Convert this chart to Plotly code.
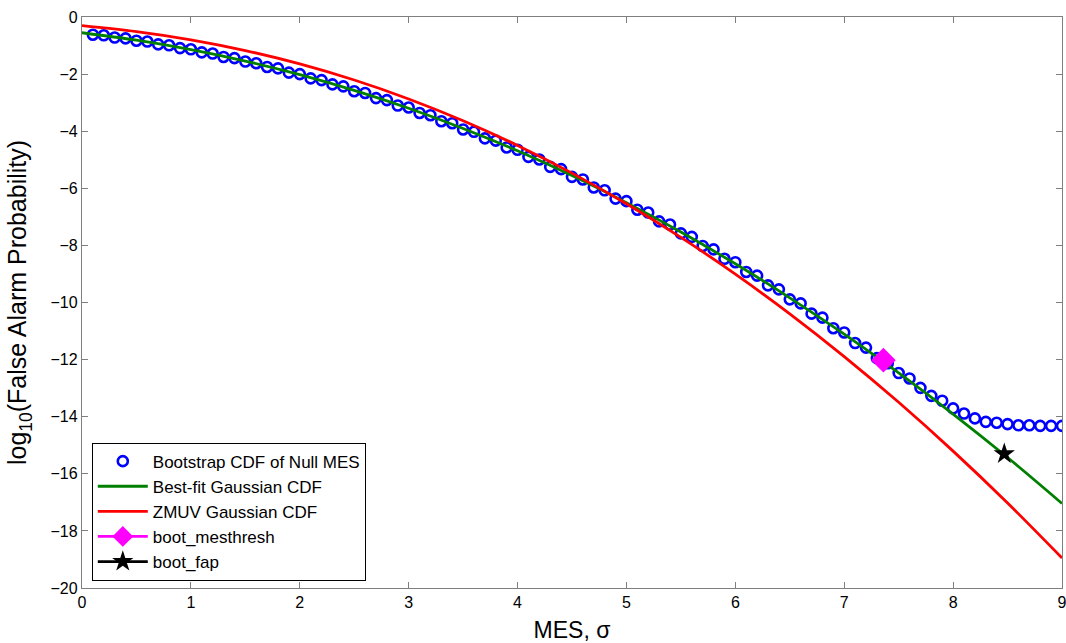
import plotly.graph_objects as go

# Bootstrap CDF of the null MES distribution (log10 false alarm probability)
boot_mes = [round(0.1 * i, 1) for i in range(1, 91)]
boot_logfap = [
    -0.62, -0.64, -0.72, -0.75, -0.83, -0.86, -0.96, -0.99, -1.09, -1.13,
    -1.24, -1.28, -1.40, -1.44, -1.56, -1.62, -1.75, -1.80, -1.95, -2.00,
    -2.15, -2.21, -2.36, -2.43, -2.60, -2.66, -2.84, -2.91, -3.10, -3.17,
    -3.36, -3.44, -3.65, -3.72, -3.94, -4.02, -4.25, -4.33, -4.57, -4.65,
    -4.90, -4.99, -5.25, -5.33, -5.60, -5.69, -5.97, -6.07, -6.36, -6.45,
    -6.75, -6.85, -7.16, -7.27, -7.58, -7.70, -8.02, -8.14, -8.47, -8.59,
    -8.93, -9.06, -9.40, -9.54, -9.89, -10.03, -10.39, -10.53, -10.90, -11.05,
    -11.42, -11.58, -11.95, -12.13, -12.47, -12.66, -12.99, -13.27, -13.44, -13.71,
    -13.89, -14.06, -14.18, -14.21, -14.26, -14.30, -14.30, -14.32, -14.32, -14.32,
]

# Gaussian CDF curves sampled along MES
curve_mes = [0.0, 0.5, 1.0, 1.5, 2.0, 2.5, 3.0, 3.5, 4.0, 4.5,
             5.0, 5.5, 6.0, 6.5, 7.0, 7.5, 8.0, 8.5, 9.0]
bestfit_logfap = [-0.552, -0.814, -1.143, -1.543, -2.018, -2.569, -3.196, -3.903, -4.688, -5.554,
                  -6.502, -7.533, -8.644, -9.836, -11.108, -12.467, -13.906, -15.43, -17.04]
zmuv_logfap = [-0.301, -0.511, -0.799, -1.175, -1.643, -2.207, -2.870, -3.633, -4.499, -5.469,
               -6.543, -7.721, -9.006, -10.396, -11.893, -13.496, -15.206, -17.023, -18.947]

# Threshold markers
mesthresh_x = [7.36]
mesthresh_y = [-12.02]
fap_x = [8.47]
fap_y = [-15.30]

x_ticks = [0, 1, 2, 3, 4, 5, 6, 7, 8, 9]
y_ticks = [0, -2, -4, -6, -8, -10, -12, -14, -16, -18, -20]

FONT = "Liberation Sans, Arial, Helvetica, sans-serif"

fig = go.Figure()
fig.add_trace(go.Scatter(
    x=boot_mes, y=boot_logfap, mode="markers", name="Bootstrap CDF of Null MES",
    marker=dict(symbol="circle-open", size=10, color="#0000ff", line=dict(width=2.6, color="#0000ff")),
))
fig.add_trace(go.Scatter(
    x=curve_mes, y=bestfit_logfap, mode="lines", name="Best-fit Gaussian CDF",
    line=dict(color="#008000", width=2.8, shape="spline"),
))
fig.add_trace(go.Scatter(
    x=curve_mes, y=zmuv_logfap, mode="lines", name="ZMUV Gaussian CDF",
    line=dict(color="#ff0000", width=2.8, shape="spline"),
))
fig.add_trace(go.Scatter(
    x=mesthresh_x, y=mesthresh_y, mode="lines+markers", name="boot_mesthresh",
    line=dict(color="#ff00ff", width=2.8),
    marker=dict(symbol="diamond", size=19, color="#ff00ff"),
))
fig.add_trace(go.Scatter(
    x=fap_x, y=fap_y, mode="lines+markers", name="boot_fap",
    line=dict(color="#000000", width=2.8),
    marker=dict(symbol="star", size=16, color="#000000"),
))

axis_common = dict(
    showline=True, linecolor="#7f7f7f", linewidth=1.3, mirror="ticks",
    ticks="inside", ticklen=6, tickcolor="#7f7f7f", tickwidth=1.3,
    showgrid=False, zeroline=False, ticklabeloverflow="allow",
    tickfont=dict(family=FONT, size=16, color="#000000"),
)

fig.update_layout(
    width=1066, height=643,
    margin=dict(l=82, r=4, t=17, b=55),
    paper_bgcolor="#ffffff", plot_bgcolor="#ffffff",
    font=dict(family=FONT, color="#000000"),
    xaxis=dict(range=[0, 9], tickmode="array", tickvals=x_ticks,
               title=dict(text="MES, σ", font=dict(family=FONT, size=23), standoff=11),
               automargin=False, **axis_common),
    yaxis=dict(range=[-20, 0], tickmode="array", tickvals=y_ticks,
               title=dict(text="log<sub>10</sub>(False Alarm Probability)", font=dict(family=FONT, size=25), standoff=16),
               automargin=False, **axis_common),
    legend=dict(
        x=0.01, y=0.013, xanchor="left", yanchor="bottom",
        bgcolor="#ffffff", bordercolor="#000000", borderwidth=1,
        font=dict(family=FONT, size=17, color="#000000"),
        itemwidth=50, tracegroupgap=0,
    ),
    showlegend=True,
)

fig.write_html("out.html")
